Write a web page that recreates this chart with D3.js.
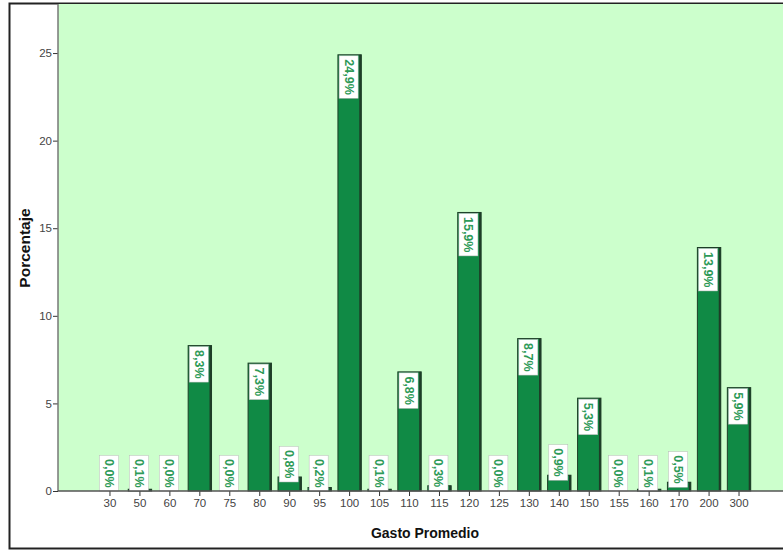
<!DOCTYPE html>
<html><head><meta charset="utf-8">
<script src="https://cdn.jsdelivr.net/npm/d3@7"></script>
<style>
body{margin:0;background:#fff;}
svg{display:block;}
text{font-family:"Liberation Sans",Arial,sans-serif;}
</style></head>
<body>
<svg id="c" width="783" height="550"></svg>
<script>
const categories = ["30","50","60","70","75","80","90","95","100","105","110","115","120","125","130","140","150","155","160","170","200","300"];
const values = [0.0,0.1,0.0,8.3,0.0,7.3,0.8,0.2,24.9,0.1,6.8,0.3,15.9,0.0,8.7,0.9,5.3,0.0,0.1,0.5,13.9,5.9];
const yTicks = [0,5,10,15,20,25];
const xTitle = "Gasto Promedio";
const yTitle = "Porcentaje";

const svg = d3.select("#c");
const W = 783, H = 550;
const plot = {left:58, top:4, right:783, bottom:491};

// outer frame
svg.append("rect").attr("x",9.5).attr("y",3.5).attr("width",800).attr("height",545)
  .attr("fill","#fff").attr("stroke","#222").attr("stroke-width",2);

// plot background
svg.append("rect").attr("x",plot.left).attr("y",plot.top)
  .attr("width",plot.right-plot.left).attr("height",plot.bottom-plot.top)
  .attr("fill","#ccffcc");

const y = d3.scaleLinear().domain([0,27.8]).range([plot.bottom, plot.top]);
const x = d3.scaleBand().domain(categories).range([95,754]).paddingInner(0.22).paddingOuter(0.11);

// bars
const bw = x.bandwidth();
const g = svg.append("g");
categories.forEach((c,i)=>{
  const v = values[i];
  const x0 = x(c), top = y(v), h = plot.bottom - top;
  if (h > 0.3) {
    g.append("rect").attr("x",x0).attr("y",top).attr("width",bw).attr("height",h)
      .attr("fill","#108a45").attr("stroke","#1e3d27").attr("stroke-width",1);
    g.append("rect").attr("x",x0+bw-2).attr("y",top).attr("width",2).attr("height",h)
      .attr("fill","#1e3d27");
  }
});

// labels
const fmt = v => d3.format(".1f")(v).replace(".",",") + "%";
categories.forEach((c,i)=>{
  const v = values[i];
  const label = fmt(v);
  const top = y(v), h = plot.bottom - top;
  const cx = x(c) + bw/2 - 1;
  const t = g.append("text").text(label).attr("font-size",12.5).attr("font-weight","bold")
    .attr("fill","#2e9a58");
  const tl = t.node().getComputedTextLength();
  const boxH = tl + 7, boxW = 19;
  let boxTop;
  if (h >= boxH + 2) boxTop = top + 1;
  else boxTop = Math.min(plot.bottom, top + 5) - boxH;
  t.remove();
  g.append("rect").attr("x",cx-boxW/2).attr("y",boxTop).attr("width",boxW).attr("height",boxH)
    .attr("fill","#fff").attr("stroke","#bbb").attr("stroke-width",0.5);
  g.append("text").text(label).attr("font-size",12.5).attr("font-weight","bold")
    .attr("fill","#2e9a58")
    .attr("text-anchor","middle").attr("dominant-baseline","central")
    .attr("transform",`translate(${cx},${boxTop+boxH/2}) rotate(90)`);
});

// y axis
const ya = svg.append("g").attr("transform",`translate(${plot.left},0)`)
  .call(d3.axisLeft(y).tickValues(yTicks).tickSize(5).tickFormat(d3.format("d")));
ya.select(".domain").remove();
ya.selectAll(".tick line").attr("stroke","#333");
ya.selectAll(".tick text").attr("font-size",11.5).attr("fill","#444").attr("x",-6)
  .attr("font-family","'Liberation Sans Narrow','Liberation Sans',Arial,sans-serif");
svg.append("line").attr("x1",plot.left).attr("x2",plot.left).attr("y1",plot.top).attr("y2",plot.bottom)
  .attr("stroke","#777").attr("stroke-width",1.5);

// x axis
const xa = svg.append("g").attr("transform",`translate(0,${plot.bottom})`)
  .call(d3.axisBottom(x).tickSize(5));
xa.select(".domain").remove();
xa.selectAll(".tick line").attr("stroke","#333");
xa.selectAll(".tick text").attr("font-size",11.5).attr("fill","#444").attr("y",8)
  .attr("font-family","'Liberation Sans Narrow','Liberation Sans',Arial,sans-serif");
svg.append("line").attr("x1",plot.left).attr("x2",W).attr("y1",plot.bottom).attr("y2",plot.bottom)
  .attr("stroke","#555").attr("stroke-width",1.5);

// titles
svg.append("text").text(xTitle).attr("x",425).attr("y",538).attr("text-anchor","middle")
  .attr("font-size",14).attr("font-weight","bold").attr("fill","#111");
svg.append("text").text(yTitle).attr("text-anchor","middle")
  .attr("transform","translate(30,248) rotate(-90)")
  .attr("font-size",15.5).attr("font-weight","bold").attr("fill","#111");
</script>
</body></html>
